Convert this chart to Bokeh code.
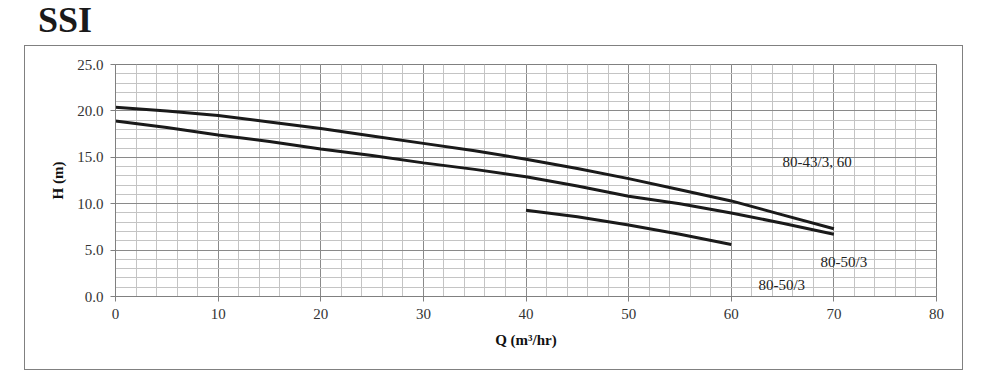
from bokeh.plotting import figure
from bokeh.layouts import column
from bokeh.models import (Range1d, SingleIntervalTicker, PrintfTickFormatter,
                          ColumnDataSource, Div)
from bokeh.core.properties import value
from bokeh.embed import file_html
from bokeh.resources import INLINE

# ---- data ----
q_top = [0, 5, 10, 15, 20, 25, 30, 35, 40, 45, 50, 55, 60, 65, 70]
h_top = [20.4, 20.0, 19.5, 18.8, 18.1, 17.3, 16.5, 15.7, 14.8, 13.8, 12.7, 11.5, 10.3, 8.8, 7.3]
q_mid = [0, 5, 10, 15, 20, 25, 30, 35, 40, 45, 50, 55, 60, 65, 70]
h_mid = [18.9, 18.2, 17.4, 16.7, 15.9, 15.2, 14.4, 13.7, 12.9, 11.9, 10.8, 10.0, 9.0, 7.9, 6.7]
q_low = [40, 45, 50, 55, 60]
h_low = [9.3, 8.6, 7.7, 6.7, 5.6]

curve_names = ["80-43/3, 60", "80-50/3", "80-50/3"]
name_x = [65.0, 68.7, 62.65]
name_y = [14.45, 3.75, 1.2]

title_text = "SSI"
x_label = "Q (m\u00b3/hr)"
y_label = "H (m)"

SERIF = "Liberation Serif"

title_div = Div(
    text=('<div style="font-family:\'Liberation Serif\';font-size:36px;'
          'font-weight:bold;color:#1a1a1a;line-height:40px;margin-left:38px;">'
          + title_text + '</div>'),
    width=300, height=46, margin=(0, 0, 0, 0))

p = figure(width=937, height=323, output_backend="svg", toolbar_location=None,
           x_range=Range1d(0, 80), y_range=Range1d(0, 25),
           min_border_left=90, min_border_right=26,
           min_border_top=18, min_border_bottom=73,
           margin=(0, 0, 0, 25),
           styles={"outline": "1px solid #808080"})
p.background_fill_color = "white"
p.border_fill_color = "white"
p.outline_line_color = "#808080"
p.outline_line_width = 1

xt = SingleIntervalTicker(interval=10, num_minor_ticks=5)
yt = SingleIntervalTicker(interval=5, num_minor_ticks=5)
p.xaxis.ticker = xt
p.yaxis.ticker = yt
p.xgrid.ticker = xt
p.ygrid.ticker = yt
p.yaxis.formatter = PrintfTickFormatter(format="%.1f")

for g in (p.xgrid, p.ygrid):
    g.grid_line_color = "#8a8a8a"
    g.grid_line_width = 1
    g.minor_grid_line_color = "#c4c4c4"
    g.minor_grid_line_width = 1

for ax in (p.xaxis, p.yaxis):
    ax.axis_line_color = "#808080"
    ax.major_tick_line_color = "#808080"
    ax.major_tick_in = 0
    ax.major_tick_out = 5
    ax.minor_tick_line_color = None
    ax.major_label_text_font = SERIF
    ax.major_label_text_font_size = "15px"
    ax.major_label_text_color = "#333333"
    ax.major_label_standoff = 7
    ax.axis_label_text_font = SERIF
    ax.axis_label_text_font_size = "15px"
    ax.axis_label_text_font_style = "bold"
    ax.axis_label_text_color = "#111111"

p.xaxis.axis_label = x_label
p.yaxis.axis_label = y_label
p.xaxis.axis_label_standoff = 10
p.yaxis.axis_label_standoff = 8

for qs, hs in ((q_top, h_top), (q_mid, h_mid), (q_low, h_low)):
    p.line(qs, hs, line_color="#1a1a1a", line_width=3)

src = ColumnDataSource(dict(x=name_x, y=name_y, t=curve_names))
p.text(x="x", y="y", text="t", source=src, text_font=value(SERIF),
       text_font_size="15px", text_color="#222222",
       text_align="left", text_baseline="alphabetic")

layout = column(title_div, p, spacing=0)

open("out.html", "w").write(file_html(layout, INLINE))
